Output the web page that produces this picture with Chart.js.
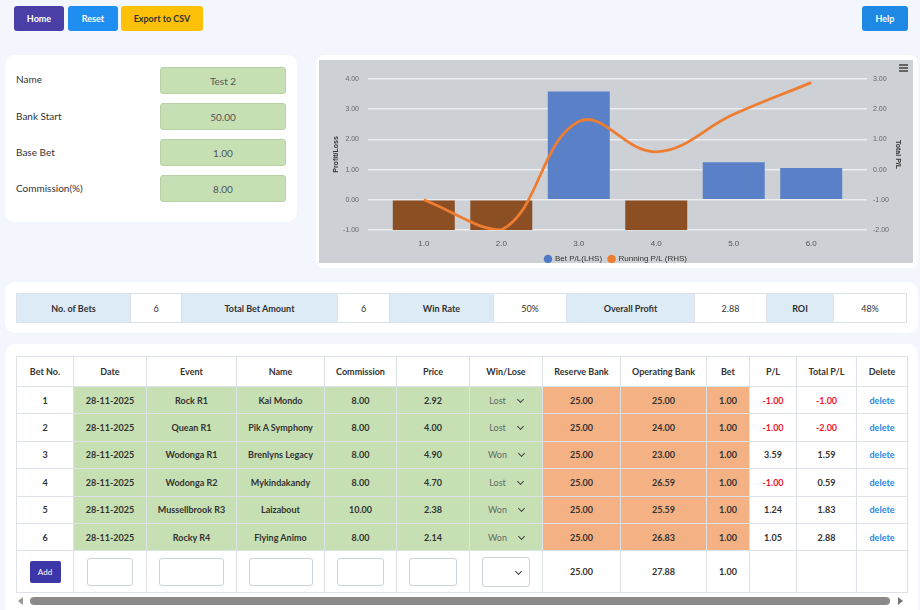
<!DOCTYPE html>
<html>
<head>
<meta charset="utf-8">
<script src="https://cdn.jsdelivr.net/npm/chart.js@4.4.1/dist/chart.umd.min.js"></script>
<style>
  body { margin:0; width:920px; height:610px; overflow:hidden; position:relative; background:#f3f6fd; font-family:Lato, "Open Sans", sans-serif; color:#333; }
  .btn { position:absolute; top:6px; height:25px; border-radius:3px; font-size:9px; font-weight:bold; color:#fff; display:flex; align-items:center; justify-content:center; }
  .card { position:absolute; background:#fff; border-radius:10px; }
  .lbl { position:absolute; left:16px; font-size:10px; color:#333; }
  .inp { position:absolute; left:160px; width:124px; height:25px; background:#c6e0b4; border:1px solid #b8d2a6; border-radius:3px; font-size:10px; color:#555; display:flex; align-items:center; justify-content:center; }
  #chartBox { position:absolute; left:319px; top:60px; width:594px; height:203px; background:#cdd1d6; overflow:hidden; }
  .menu { position:absolute; left:899px; width:9px; height:1.5px; background:#666; }
  table { position:absolute; border-collapse:collapse; table-layout:fixed; }
  td, th { border:1px solid #dde1e8; padding:0; text-align:center; vertical-align:middle; font-size:9px; overflow:hidden; white-space:nowrap; }
  #summary td { height:28px; }
  #summary .h { background:#ddebf7; font-weight:bold; }
  #bets th { height:29px; font-weight:bold; background:#fff; }
  #bets td { height:26.4px; font-weight:bold; }
  #bets .g { background:#c6e0b4; }
  #bets .o { background:#f4b183; }
  #bets .neg { color:#f0142f; }
  #bets .del { color:#1e88e5; }
  #bets .sel { font-weight:normal; color:#666; }
  #bets tr.add td { height:41px; }
  .chev { display:inline-block; width:4px; height:4px; border-right:1.5px solid #444; border-bottom:1.5px solid #444; transform:rotate(45deg); margin-left:12px; position:relative; top:-2px; }
  .box { display:inline-block; height:26px; border:1px solid #ccd2da; border-radius:3px; background:#fff; vertical-align:middle; }
</style>
</head>
<body>

<div class="btn" style="left:14px;width:50px;background:#4a3fa6;">Home</div>
<div class="btn" style="left:68px;width:50px;background:#1f8ef1;">Reset</div>
<div class="btn" style="left:121px;width:82px;background:#ffc107;color:#333;">Export to CSV</div>
<div class="btn" style="left:862px;width:46px;background:#1e88e5;">Help</div>

<div class="card" style="left:5px;top:55px;width:292px;height:167px;"></div>
<div class="lbl" style="top:73px;">Name</div>
<div class="lbl" style="top:110px;">Bank Start</div>
<div class="lbl" style="top:146px;">Base Bet</div>
<div class="lbl" style="top:182px;">Commission(%)</div>
<div class="inp" style="top:67px;">Test 2</div>
<div class="inp" style="top:103px;">50.00</div>
<div class="inp" style="top:139px;">1.00</div>
<div class="inp" style="top:175px;">8.00</div>

<div class="card" style="left:316px;top:55px;width:602px;height:213px;border-radius:8px;"></div>
<div id="chartBox"><canvas id="plChart" width="594" height="213"></canvas></div>
<div class="menu" style="top:64px;"></div>
<div class="menu" style="top:67px;"></div>
<div class="menu" style="top:70px;"></div>

<div class="card" style="left:5px;top:282px;width:913px;height:51px;"></div>
<table id="summary" style="left:16px;top:293px;width:890px;">
  <colgroup>
    <col style="width:114px"><col style="width:51px"><col style="width:156px"><col style="width:52px"><col style="width:104px">
    <col style="width:73px"><col style="width:128px"><col style="width:72px"><col style="width:67px"><col style="width:73px">
  </colgroup>
  <tr id="summaryRow"></tr>
</table>

<div class="card" style="left:5px;top:344px;width:913px;height:280px;"></div>
<table id="bets" style="left:16px;top:356px;width:891px;">
  <colgroup>
    <col style="width:57px"><col style="width:73px"><col style="width:90px"><col style="width:88px"><col style="width:72px">
    <col style="width:73px"><col style="width:73px"><col style="width:78px"><col style="width:86px"><col style="width:43px">
    <col style="width:47px"><col style="width:60px"><col style="width:51px">
  </colgroup>
  <thead><tr id="betsHead"></tr></thead>
  <tbody id="betsBody"></tbody>
</table>

<div style="position:absolute;left:18px;top:597px;width:0;height:0;border-top:4px solid transparent;border-bottom:4px solid transparent;border-right:5px solid #999;"></div>
<div style="position:absolute;left:30px;top:597px;width:860px;height:8px;border-radius:4px;background:#8a8a8a;"></div>
<div style="position:absolute;left:898px;top:597px;width:0;height:0;border-top:4px solid transparent;border-bottom:4px solid transparent;border-left:5px solid #777;"></div>

<script>
// チャートデータ
const betNos = [1, 2, 3, 4, 5, 6];
const betPL = [-1.00, -1.00, 3.59, -1.00, 1.24, 1.05];
const totalPL = [-1.00, -2.00, 1.59, 0.59, 1.83, 2.88];
const seriesNames = ['Bet P/L(LHS)', 'Running P/L (RHS)'];
const legendColors = ['#4f79c6', '#ee7d31'];

// サマリー
const summaryLabels = ['No. of Bets', 'Total Bet Amount', 'Win Rate', 'Overall Profit', 'ROI'];
const summaryValues = ['6', '6', '50%', '2.88', '48%'];

// 明細テーブル
const headers = ['Bet No.', 'Date', 'Event', 'Name', 'Commission', 'Price', 'Win/Lose', 'Reserve Bank', 'Operating Bank', 'Bet', 'P/L', 'Total P/L', 'Delete'];
const dates = ['28-11-2025', '28-11-2025', '28-11-2025', '28-11-2025', '28-11-2025', '28-11-2025'];
const events = ['Rock R1', 'Quean R1', 'Wodonga R1', 'Wodonga R2', 'Mussellbrook R3', 'Rocky R4'];
const names = ['Kai Mondo', 'Pik A Symphony', 'Brenlyns Legacy', 'Mykindakandy', 'Laizabout', 'Flying Animo'];
const commissions = ['8.00', '8.00', '8.00', '8.00', '10.00', '8.00'];
const prices = ['2.92', '4.00', '4.90', '4.70', '2.38', '2.14'];
const results = ['Lost', 'Lost', 'Won', 'Lost', 'Won', 'Won'];
const reserveBank = ['25.00', '25.00', '25.00', '25.00', '25.00', '25.00'];
const operatingBank = ['25.00', '24.00', '23.00', '26.59', '25.59', '26.83'];
const bets = ['1.00', '1.00', '1.00', '1.00', '1.00', '1.00'];

document.getElementById('summaryRow').innerHTML = summaryLabels.map((l, i) =>
  `<td class="h">${l}</td><td>${summaryValues[i]}</td>`).join('');

document.getElementById('betsHead').innerHTML = headers.map(h => `<th>${h}</th>`).join('');

const fmt = v => v.toFixed(2);
const rowsHtml = betNos.map((n, i) => `
  <tr>
    <td>${n}</td>
    <td class="g">${dates[i]}</td>
    <td class="g">${events[i]}</td>
    <td class="g">${names[i]}</td>
    <td class="g">${commissions[i]}</td>
    <td class="g">${prices[i]}</td>
    <td class="g sel">${results[i]}<span class="chev"></span></td>
    <td class="o">${reserveBank[i]}</td>
    <td class="o">${operatingBank[i]}</td>
    <td class="o">${bets[i]}</td>
    <td class="${betPL[i] < 0 ? 'neg' : ''}">${fmt(betPL[i])}</td>
    <td class="${totalPL[i] < 0 ? 'neg' : ''}">${fmt(totalPL[i])}</td>
    <td class="del">delete</td>
  </tr>`).join('');

const addRow = `
  <tr class="add">
    <td><span style="display:inline-block;width:31px;height:22px;line-height:22px;background:#3d36a8;color:#fff;border-radius:2px;font-size:8px;font-weight:normal;">Add</span></td>
    <td><span class="box" style="width:44px"></span></td>
    <td><span class="box" style="width:63px"></span></td>
    <td><span class="box" style="width:62px"></span></td>
    <td><span class="box" style="width:45px"></span></td>
    <td><span class="box" style="width:46px"></span></td>
    <td><span class="box" style="width:46px;height:28px;text-align:right;"><span class="chev" style="margin:11px 8px 0 0;top:0;"></span></span></td>
    <td>25.00</td>
    <td>27.88</td>
    <td>1.00</td>
    <td></td><td></td><td></td>
  </tr>`;
document.getElementById('betsBody').innerHTML = rowsHtml + addRow;

// 損益グラフ
function renderChart() {
  const ctx = document.getElementById('plChart').getContext('2d');
  new Chart(ctx, {
    type: 'bar',
    data: {
      datasets: [
        {
          type: 'bar',
          label: seriesNames[0],
          data: betNos.map((n, i) => ({ x: n, y: betPL[i] })),
          backgroundColor: betPL.map(v => v < 0 ? '#8c4f24' : '#5a80c8'),
          yAxisID: 'y',
          categoryPercentage: 0.8,
          barPercentage: 1,
          order: 2
        },
        {
          type: 'line',
          label: seriesNames[1],
          data: betNos.map((n, i) => ({ x: n, y: totalPL[i] })),
          borderColor: '#ee7d31',
          backgroundColor: '#ee7d31',
          borderWidth: 2.8,
          tension: 0.4,
          pointRadius: 0,
          yAxisID: 'y1',
          order: 1
        }
      ]
    },
    options: {
      responsive: false,
      animation: false,
      layout: { padding: { top: 19, bottom: 0 } },
      plugins: {
        tooltip: { enabled: false },
        legend: {
          position: 'bottom',
          labels: {
            usePointStyle: true,
            pointStyle: 'circle',
            boxWidth: 6,
            boxHeight: 6,
            padding: 2,
            color: '#333',
            font: { size: 8, family: 'Liberation Sans' },
            sort: (a, b) => a.datasetIndex - b.datasetIndex,
            generateLabels: chart => Chart.defaults.plugins.legend.labels.generateLabels(chart).map(l => {
              l.fillStyle = legendColors[l.datasetIndex];
              l.strokeStyle = legendColors[l.datasetIndex];
              l.lineWidth = 0;
              if (l.datasetIndex === 0) l.text = l.text + '  ';
              return l;
            })
          }
        }
      },
      scales: {
        x: {
          type: 'linear',
          offset: false,
          min: 0.28,
          max: 6.72,
          grid: { display: false, drawTicks: false },
          border: { display: false },
          afterBuildTicks: s => { s.ticks = betNos.map(v => ({ value: v })); },
          afterFit: s => { s.height = 23; },
          ticks: { callback: v => Number(v).toFixed(1), color: '#555', font: { size: 8, family: 'Liberation Sans' }, padding: 9, maxRotation: 0 }
        },
        y: {
          position: 'left',
          min: -1,
          max: 4,
          afterFit: s => { s.width = 49; },
          ticks: { stepSize: 1, callback: v => v.toFixed(2), color: '#666', font: { size: 7, family: 'Liberation Sans' }, padding: 9 },
          grid: { color: 'rgba(255,255,255,0.6)', lineWidth: 1.5, drawTicks: false },
          border: { display: false },
          title: { display: true, text: 'Profit/Loss', color: '#333', font: { size: 7, weight: 'bold', family: 'Liberation Sans' }, padding: 13 }
        },
        y1: {
          position: 'right',
          min: -2,
          max: 3,
          afterFit: s => { s.width = 46; },
          ticks: { stepSize: 1, callback: v => v.toFixed(2), color: '#666', font: { size: 7, family: 'Liberation Sans' }, padding: 6 },
          grid: { display: false, drawTicks: false },
          border: { display: false },
          title: { display: true, text: 'Total P/L', color: '#333', font: { size: 7, weight: 'bold', family: 'Liberation Sans' }, padding: 11 }
        }
      }
    }
  });
}

renderChart();
</script>
</body>
</html>
